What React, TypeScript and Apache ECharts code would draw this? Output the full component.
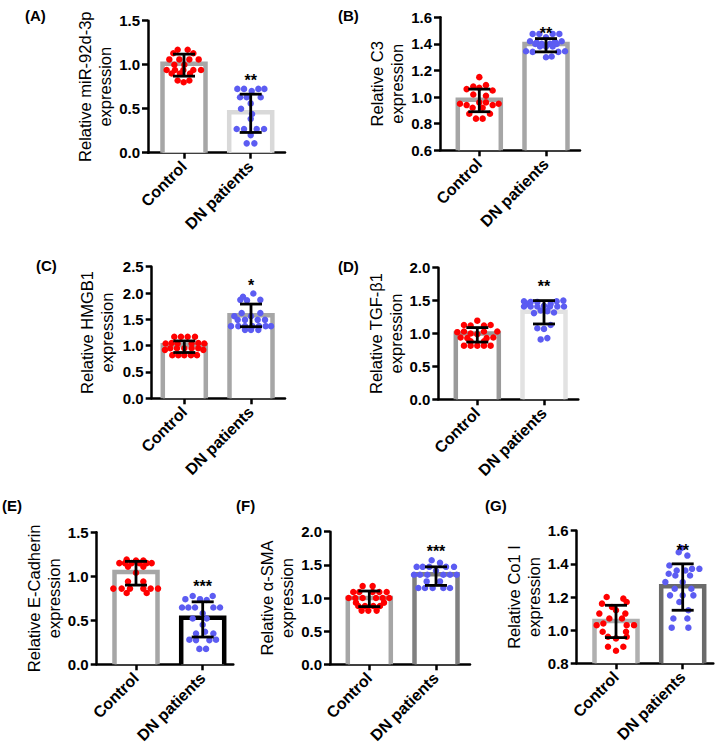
import React, { useEffect, useRef } from "react";
import * as echarts from "echarts";

const groups = ["Control", "DN patients"];
const panelLetters = ["(A)", "(B)", "(C)", "(D)", "(E)", "(F)", "(G)"];
const yTitles = [
  "Relative miR-92d-3p\nexpression",
  "Relative C3\nexpression",
  "Relative HMGB1\nexpression",
  "Relative TGF-β1\nexpression",
  "Relative E-Cadherin\nexpression",
  "Relative α-SMA\nexpression",
  "Relative Co1 I\nexpression",
];
const yMins = [0, 0.6, 0, 0, 0, 0, 0.8];
const yMaxs = [1.5, 1.6, 2.5, 2.0, 1.5, 2.0, 1.6];
const yIntervals = [0.5, 0.2, 0.5, 0.5, 0.5, 0.5, 0.2];
const means = [[1.01, 0.46], [0.98, 1.40], [1.01, 1.58], [1.0, 1.33], [1.05, 0.53], [1.0, 1.36], [1.055, 1.265]];
const errLow = [[0.87, 0.23], [0.89, 1.34], [0.87, 1.36], [0.87, 1.145], [0.90, 0.31], [0.87, 1.19], [0.955, 1.12]];
const errHigh = [[1.12, 0.665], [1.06, 1.44], [1.09, 1.79], [1.09, 1.50], [1.17, 0.71], [1.105, 1.47], [1.15, 1.40]];
const stars = ["**", "**", "*", "**", "***", "***", "**"];
const starY = [0.82, 1.48, 2.15, 1.71, 0.88, 1.70, 1.48];

// points: [jitter offset from group centre (category units), value]
const ptsACtrl = [[-0.095,1.17],[0.055,1.17],[-0.16,1.13],[0.14,1.13],[-0.22,1.06],[-0.07,1.06],[0.08,1.06],[0.22,1.06],[0.005,1.0],[-0.145,1.0],[-0.26,0.94],[-0.135,0.94],[-0.01,0.94],[0.14,0.94],[0.255,0.94],[-0.185,0.9],[-0.06,0.9],[0.09,0.9],[-0.095,0.82],[0.08,0.82],[-0.005,0.80]];
const ptsADn = [[-0.2,0.725],[-0.1,0.725],[0.115,0.725],[0.205,0.725],[0.015,0.70],[-0.16,0.63],[-0.06,0.63],[0.15,0.63],[0,0.56],[-0.145,0.50],[0.02,0.44],[0,0.385],[-0.21,0.27],[-0.1,0.27],[0.09,0.27],[0.2,0.27],[0,0.2],[-0.06,0.106],[0.055,0.106]];
const ptsBCtrl = [[0,1.15],[-0.19,1.06],[-0.09,1.08],[0,1.07],[0.1,1.09],[0.2,1.05],[-0.09,1.02],[0.1,1.01],[-0.29,0.95],[-0.19,0.94],[0,0.96],[0.2,0.94],[0.29,0.95],[-0.1,0.92],[0.05,0.92],[-0.15,0.875],[0.16,0.875],[-0.05,0.838],[0.05,0.838],[0.1,0.96]];
const ptsBDn = [[-0.2,1.475],[-0.1,1.475],[0.1,1.475],[0.2,1.475],[0,1.45],[-0.24,1.42],[-0.14,1.41],[0.135,1.415],[0.235,1.42],[-0.16,1.40],[-0.065,1.40],[0.06,1.40],[0.16,1.40],[-0.09,1.38],[0,1.38],[0.1,1.38],[-0.3,1.345],[-0.2,1.34],[0.185,1.34],[0.285,1.345],[0,1.30],[0.085,1.305]];
const ptsCCtrl = [[-0.15,1.17],[-0.05,1.17],[0.05,1.17],[0.16,1.17],[-0.28,1.04],[-0.19,1.05],[-0.1,1.04],[0.11,1.04],[0.21,1.05],[0.3,1.04],[-0.21,0.95],[-0.11,0.95],[0,0.95],[0.11,0.95],[0.21,0.95],[-0.29,0.92],[0.285,0.92],[-0.18,0.82],[-0.09,0.82],[0,0.82],[0.1,0.82],[0.19,0.82]];
const ptsCDn = [[0.035,1.99],[-0.12,1.93],[-0.16,1.87],[-0.06,1.86],[0.14,1.87],[-0.14,1.62],[0.14,1.62],[-0.25,1.56],[0,1.56],[-0.2,1.49],[-0.09,1.49],[0.1,1.49],[0.21,1.49],[-0.3,1.37],[-0.19,1.37],[-0.09,1.37],[0.02,1.37],[0.12,1.37],[0.22,1.37],[0.3,1.37],[-0.09,1.30],[0,1.30],[0.11,1.30]];
const ptsDCtrl = [[0,1.195],[-0.2,1.13],[-0.1,1.12],[0.1,1.12],[0.2,1.13],[-0.3,1.02],[-0.2,1.03],[0.1,1.03],[0.3,1.03],[-0.1,1.0],[0,0.99],[-0.25,0.94],[-0.15,0.93],[0.14,0.93],[0.24,0.94],[-0.1,0.88],[0.1,0.88],[-0.2,0.815],[-0.1,0.815],[0,0.815],[0.1,0.815],[0.2,0.815]];
const ptsDDn = [[-0.3,1.49],[-0.2,1.48],[-0.1,1.48],[0.19,1.49],[0.29,1.50],[-0.25,1.45],[0.1,1.45],[-0.3,1.41],[-0.2,1.41],[-0.1,1.41],[0,1.42],[0.09,1.41],[0.2,1.41],[0.3,1.41],[-0.05,1.35],[0.05,1.34],[-0.15,1.31],[0.15,1.32],[0.1,1.13],[-0.1,1.08],[0,1.07],[-0.05,0.91],[0.05,0.93]];
const ptsECtrl = [[-0.14,1.19],[0,1.18],[0.11,1.18],[-0.25,1.15],[-0.165,1.15],[-0.065,1.15],[0.05,1.15],[0.16,1.15],[0.235,1.15],[-0.12,1.11],[0.11,1.11],[0,1.04],[-0.12,0.94],[0.11,0.94],[-0.34,0.86],[-0.215,0.86],[-0.09,0.86],[0.11,0.86],[0.22,0.86],[0.33,0.86],[-0.14,0.81],[0.16,0.81]];
const ptsEDn = [[-0.15,0.776],[0.15,0.776],[-0.26,0.74],[-0.04,0.74],[0.06,0.73],[-0.31,0.645],[-0.215,0.645],[-0.115,0.645],[0.16,0.645],[0.26,0.645],[0,0.58],[-0.15,0.52],[0.06,0.52],[0,0.45],[0.035,0.37],[-0.1,0.35],[0.16,0.35],[-0.2,0.28],[-0.1,0.275],[0.1,0.275],[0.2,0.28],[-0.05,0.175],[0.05,0.175]];
const ptsFCtrl = [[-0.1,1.18],[0.05,1.18],[-0.24,1.09],[-0.15,1.09],[0.05,1.09],[0.15,1.09],[0.26,1.09],[-0.31,1.0],[-0.21,1.0],[-0.1,1.0],[0.1,1.0],[0.2,1.0],[0.3,1.0],[-0.2,0.93],[0.22,0.93],[-0.165,0.88],[-0.065,0.88],[0.06,0.88],[0.16,0.88],[-0.115,0.81],[-0.015,0.81],[0.11,0.81]];
const ptsFDn = [[-0.065,1.57],[0.06,1.53],[-0.29,1.47],[-0.2,1.47],[-0.1,1.47],[0.15,1.47],[0.27,1.47],[0,1.41],[-0.33,1.35],[-0.24,1.35],[-0.13,1.35],[0.11,1.35],[0.21,1.35],[0.31,1.35],[-0.14,1.25],[0.06,1.25],[-0.265,1.15],[-0.165,1.15],[-0.05,1.15],[0.11,1.15],[0.21,1.15]];
const ptsGCtrl = [[-0.14,1.2],[0.11,1.19],[-0.21,1.16],[0.16,1.17],[-0.06,1.14],[0,1.12],[-0.25,1.10],[0.14,1.10],[-0.1,1.07],[0.09,1.07],[-0.29,1.03],[-0.19,1.04],[0.16,1.03],[0.27,1.03],[-0.2,0.99],[0.15,0.99],[-0.12,0.96],[0.16,0.96],[0,0.95],[-0.12,0.90],[0.11,0.90],[0,0.876]];
const ptsGDn = [[-0.02,1.495],[-0.06,1.47],[0.07,1.45],[-0.2,1.39],[0.25,1.37],[-0.09,1.36],[0.04,1.36],[0.14,1.37],[-0.21,1.34],[-0.11,1.33],[0.11,1.33],[-0.26,1.29],[0,1.29],[-0.12,1.25],[0.13,1.25],[-0.19,1.21],[0,1.21],[0.16,1.21],[-0.05,1.17],[0.085,1.12],[-0.14,1.07],[0.07,1.07],[-0.165,1.015],[0.085,1.015]];

const ctrlPts = [ptsACtrl, ptsBCtrl, ptsCCtrl, ptsDCtrl, ptsECtrl, ptsFCtrl, ptsGCtrl];
const dnPts = [ptsADn, ptsBDn, ptsCDn, ptsDDn, ptsEDn, ptsFDn, ptsGDn];

// layout (pixels) for each panel
const layout = [
  { left: 148, top: 20.7, bottom: 152.7, c0: 184, right: 285, gap: 32, lx: 25, ly: 8 },
  { left: 440, top: 17.3, bottom: 150.3, c0: 479.3, right: 580, gap: 27, lx: 338, ly: 8 },
  { left: 151.7, top: 266.7, bottom: 398.3, c0: 184.3, right: 285, gap: 35, lx: 36, ly: 258 },
  { left: 438.3, top: 267.7, bottom: 399.3, c0: 477.3, right: 578.3, gap: 29, lx: 338, ly: 259 },
  { left: 96.7, top: 532.3, bottom: 664.3, c0: 136, right: 233.3, gap: 30, lx: 2, ly: 498 },
  { left: 330, top: 531.7, bottom: 664.3, c0: 369.3, right: 470, gap: 30, lx: 236, ly: 498 },
  { left: 576.7, top: 530.7, bottom: 663.3, c0: 616, right: 713.3, gap: 30, lx: 485, ly: 498 },
];
const barColors = [
  ["#a6a6a6", "#d9d9d9"],
  ["#a6a6a6", "#a6a6a6"],
  ["#a6a6a6", "#a6a6a6"],
  ["#9a9a9a", "#e2e2e2"],
  ["#a6a6a6", "#000000"],
  ["#a6a6a6", "#808080"],
  ["#b0b0b0", "#6b6b6b"],
];
const UNIT = 66.7;
const FONT = "'Liberation Sans', Arial, sans-serif";

export default function App() {
  const ref = useRef<HTMLDivElement>(null);
  useEffect(() => {
    document.body.style.margin = "0";
    const chart = echarts.init(ref.current!, null, { renderer: "svg" });
    const grids: any[] = [];
    const xAxes: any[] = [];
    const yAxes: any[] = [];
    const series: any[] = [];
    const graphics: any[] = [];
    layout.forEach((L, i) => {
      const xMin = (L.left - L.c0) / UNIT;
      const xMax = 1 + (L.right - (L.c0 + UNIT)) / UNIT;
      grids.push({ left: L.left, top: L.top, width: L.right - L.left, height: L.bottom - L.top, outerBoundsMode: "none", containLabel: false });
      xAxes.push({
        type: "value", gridIndex: i, min: xMin, max: xMax,
        splitLine: { show: false },
        axisLine: { show: true, onZero: false, lineStyle: { color: "#000", width: 2.5 } },
        axisTick: { show: true, customValues: [0, 1], length: 6, lineStyle: { color: "#000", width: 2.5 } },
        axisLabel: {
          customValues: [0, 1], rotate: 45, margin: 11, fontSize: 16, fontWeight: "bold", color: "#000", fontFamily: FONT,
          formatter: (v: number) => groups[Math.round(v)] ?? "",
        },
      });
      yAxes.push({
        type: "value", gridIndex: i, min: yMins[i], max: yMaxs[i], interval: yIntervals[i],
        splitLine: { show: false },
        axisLine: { show: true, onZero: false, lineStyle: { color: "#000", width: 2.5 } },
        axisTick: { show: true, length: 6, lineStyle: { color: "#000", width: 2.5 } },
        axisLabel: { fontSize: 15, fontWeight: "bold", color: "#000", margin: 8, fontFamily: FONT, formatter: (v: number) => v.toFixed(1) },
        name: yTitles[i], nameLocation: "middle", nameRotate: 90, nameGap: L.gap,
        nameTextStyle: { fontSize: 16.5, lineHeight: 20, color: "#000", fontFamily: FONT, align: "center" },
      });
      const yMin = yMins[i];
      const cols = barColors[i];
      series.push({
        type: "custom", xAxisIndex: i, yAxisIndex: i, z: 1,
        data: [[0, means[i][0]], [1, means[i][1]]],
        renderItem: (params: any, api: any) => {
          const x = api.value(0), y = api.value(1);
          const t = api.coord([x, y]);
          const b = api.coord([x, yMin]);
          const hw = 21.5;
          return {
            type: "group",
            children: [
              { type: "rect", shape: { x: t[0] - hw, y: t[1], width: 2 * hw, height: b[1] - t[1] }, style: { fill: "#fff" } },
              { type: "polyline", shape: { points: [[t[0] - hw, b[1]], [t[0] - hw, t[1]], [t[0] + hw, t[1]], [t[0] + hw, b[1]]] }, style: { fill: null, stroke: cols[params.dataIndex], lineWidth: 4.5 } },
            ],
          };
        },
      });
      series.push({
        type: "scatter", xAxisIndex: i, yAxisIndex: i, z: 2, symbolSize: 6.5,
        itemStyle: { color: "#ff0000", opacity: 1 },
        data: ctrlPts[i].map((p) => [p[0], p[1]]),
      });
      series.push({
        type: "scatter", xAxisIndex: i, yAxisIndex: i, z: 2, symbolSize: 6.5,
        itemStyle: { color: "#5c5cf2", opacity: 1 },
        data: dnPts[i].map((p) => [1 + p[0], p[1]]),
      });
      series.push({
        type: "custom", xAxisIndex: i, yAxisIndex: i, z: 3,
        data: [[0, errLow[i][0], errHigh[i][0]], [1, errLow[i][1], errHigh[i][1]]],
        renderItem: (params: any, api: any) => {
          const x = api.value(0);
          const lo = api.coord([x, api.value(1)]);
          const hi = api.coord([x, api.value(2)]);
          const cw = 11;
          const st = { stroke: "#000", lineWidth: 2.8 };
          return {
            type: "group",
            children: [
              { type: "line", shape: { x1: lo[0], y1: lo[1], x2: hi[0], y2: hi[1] }, style: st },
              { type: "line", shape: { x1: hi[0] - cw, y1: hi[1], x2: hi[0] + cw, y2: hi[1] }, style: st },
              { type: "line", shape: { x1: lo[0] - cw, y1: lo[1], x2: lo[0] + cw, y2: lo[1] }, style: st },
            ],
          };
        },
      });
      series.push({
        type: "custom", xAxisIndex: i, yAxisIndex: i, z: 4,
        data: [[1, starY[i]]],
        renderItem: (params: any, api: any) => {
          const p = api.coord([api.value(0), api.value(1)]);
          return {
            type: "text", x: p[0], y: p[1],
            style: { text: stars[i], fill: "#000", font: `bold 16px ${FONT}`, textAlign: "center", textVerticalAlign: "middle" },
          };
        },
      });
      graphics.push({
        type: "text", left: L.lx, top: L.ly,
        style: { text: panelLetters[i], fill: "#000", font: `bold 15px ${FONT}` },
      });
    });
    chart.setOption({
      animation: false,
      backgroundColor: "#ffffff",
      textStyle: { fontFamily: FONT },
      grid: grids,
      xAxis: xAxes,
      yAxis: yAxes,
      series,
      graphic: graphics,
    });
    return () => chart.dispose();
  }, []);
  return <div ref={ref} style={{ width: 720, height: 747 }} />;
}
